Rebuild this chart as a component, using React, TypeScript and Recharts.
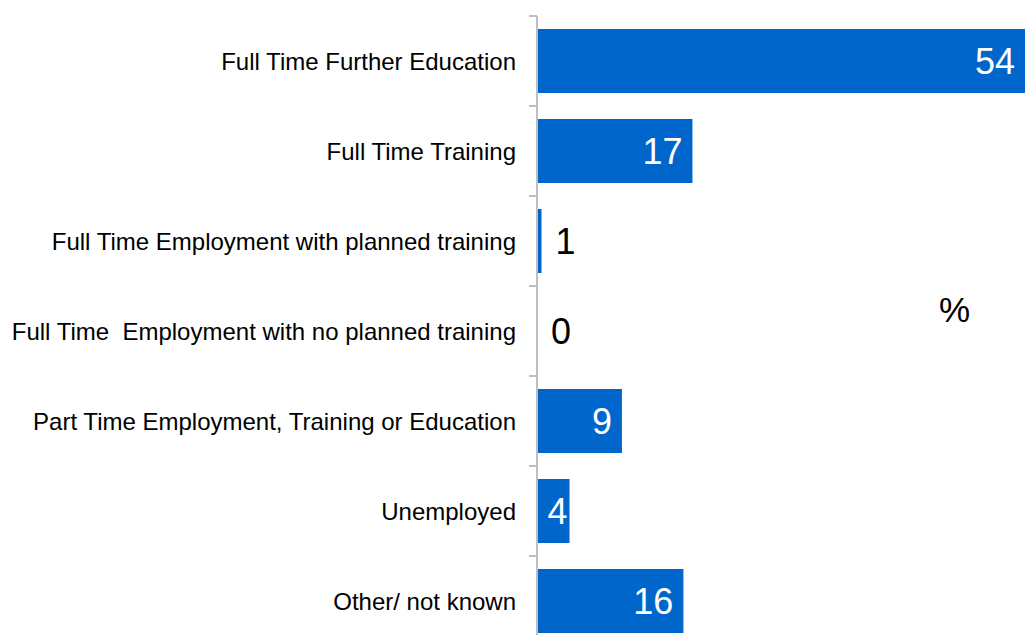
import { BarChart, Bar, XAxis, YAxis, LabelList, Rectangle } from 'recharts';

const categories = [
	'Full Time Further Education',
	'Full Time Training',
	'Full Time Employment with planned training',
	'Full Time  Employment with no planned training',
	'Part Time Employment, Training or Education',
	'Unemployed',
	'Other/ not known',
];

const values = [54, 17.2, 0.5, 0, 9.4, 3.6, 16.2];

const data = categories.map((name, i) => ({ name, value: values[i] }));

const BAR_COLOR = '#0066CC';
const AXIS_COLOR = '#BFBFBF';
const FONT = '"Liberation Sans", Arial, sans-serif';
const CHART_H = 650;
const MARGIN_TOP = 16;
const MARGIN_BOTTOM = 4;
const BAND = (CHART_H - MARGIN_TOP - MARGIN_BOTTOM) / categories.length;
const TICK_SIZE = 8;
const TICK_MARGIN = 13;
const VALUE_FONT = 36;

const CategoryTick = (props: any) => {
	const { x, y, payload, index } = props;
	const axisX = x + TICK_SIZE + TICK_MARGIN;
	return (
		<g>
			<line x1={axisX - TICK_SIZE} x2={axisX} y1={y - BAND / 2} y2={y - BAND / 2} stroke={AXIS_COLOR} strokeWidth={2} />
			{index === categories.length - 1 && (
				<line x1={axisX - TICK_SIZE} x2={axisX} y1={y + BAND / 2} y2={y + BAND / 2} stroke={AXIS_COLOR} strokeWidth={2} />
			)}
			<text
				x={x}
				y={y}
				textAnchor="end"
				dominantBaseline="central"
				fontSize={24}
				fill="#000"
				fontFamily={FONT}
				style={{ whiteSpace: 'pre' }}
			>
				{payload.value}
			</text>
		</g>
	);
};

// zero values get a tiny minPointSize so the label still renders; hide that sliver
const BarShape = (props: any) => {
	if (!props.value) return null;
	return <Rectangle {...props} />;
};

const ValueLabel = (props: any) => {
	const { x, y, width, height, value } = props;
	const text = String(Math.round(value));
	const textW = text.length * VALUE_FONT * 0.556;
	const inside = value > 0 && width > textW + 10;
	const barEnd = value > 0 ? x + width : x;
	const pad = width > textW + 20 ? 10 : 2;
	return (
		<text
			x={inside ? barEnd - pad : barEnd + 14}
			y={y + height / 2}
			textAnchor={inside ? 'end' : 'start'}
			dominantBaseline="central"
			fontSize={VALUE_FONT}
			fill={inside ? '#fff' : '#000'}
			fontFamily={FONT}
		>
			{text}
		</text>
	);
};

export default function App() {
	return (
		<div style={{ position: 'absolute', left: 0, top: 0, width: 1025, height: 635, overflow: 'hidden', background: '#fff' }}>
			<BarChart
				width={1025}
				height={CHART_H}
				data={data}
				layout="vertical"
				margin={{ top: MARGIN_TOP, right: 0, bottom: MARGIN_BOTTOM, left: 0 }}
				barSize={64}
			>
				<XAxis type="number" domain={[0, 54]} hide />
				<YAxis
					type="category"
					dataKey="name"
					width={537}
					axisLine={{ stroke: AXIS_COLOR, strokeWidth: 2 }}
					tickLine={false}
					tickSize={TICK_SIZE}
					tickMargin={TICK_MARGIN}
					tick={<CategoryTick />}
					interval={0}
				/>
				<Bar
					dataKey="value"
					fill={BAR_COLOR}
					isAnimationActive={false}
					minPointSize={(v: number) => (v === 0 ? 1 : 0)}
					shape={<BarShape />}
				>
					<LabelList dataKey="value" content={<ValueLabel />} />
				</Bar>
			</BarChart>
			<div style={{ position: 'absolute', left: 939, top: 292, fontFamily: FONT, fontSize: 35, lineHeight: 1 }}>%</div>
		</div>
	);
}
